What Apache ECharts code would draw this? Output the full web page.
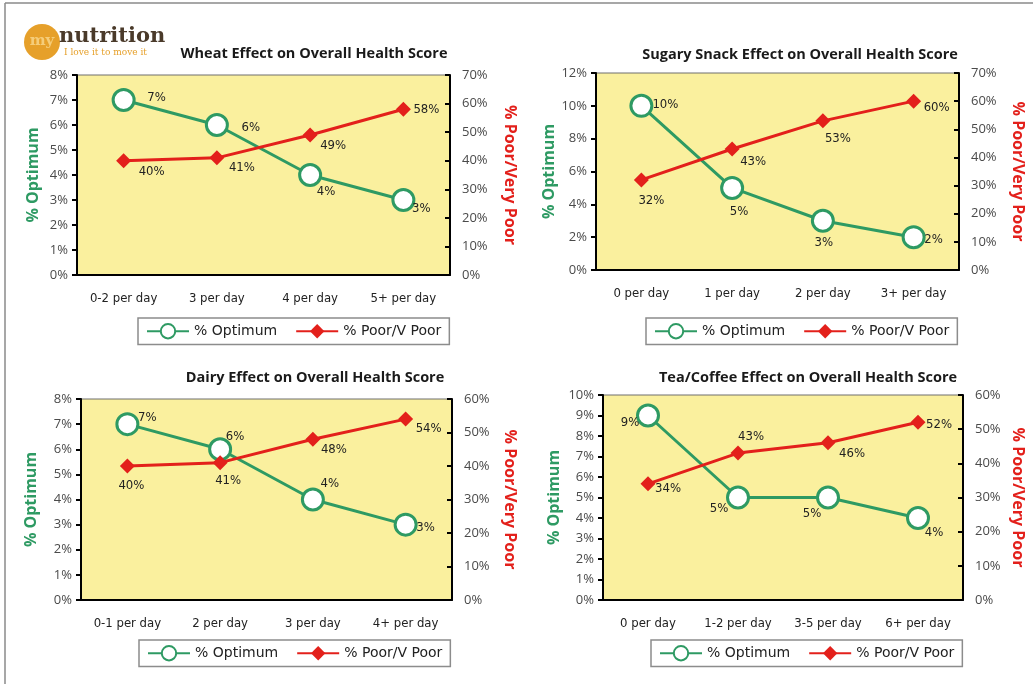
<!DOCTYPE html>
<html>
<head>
<meta charset="utf-8">
<title>Overall Health Score</title>
<script src="https://cdn.jsdelivr.net/npm/echarts@6/dist/echarts.min.js"></script>
<style>
  html, body { margin: 0; padding: 0; background: #fff; }
  #main { width: 1033px; height: 684px; }
</style>
</head>
<body>
<div id="main"></div>
<script>
// ---- data ----
const wheatCategories = ["0-2 per day", "3 per day", "4 per day", "5+ per day"];
const wheatOptimum = [7, 6, 4, 3];
const wheatPoor = [40, 41, 49, 58];

const sugarCategories = ["0 per day", "1 per day", "2 per day", "3+ per day"];
const sugarOptimum = [10, 5, 3, 2];
const sugarPoor = [32, 43, 53, 60];

const dairyCategories = ["0-1 per day", "2 per day", "3 per day", "4+ per day"];
const dairyOptimum = [7, 6, 4, 3];
const dairyPoor = [40, 41, 48, 54];

const teaCategories = ["0 per day", "1-2 per day", "3-5 per day", "6+ per day"];
const teaOptimum = [9, 5, 5, 4];
const teaPoor = [34, 43, 46, 52];

const seriesNames = ["% Optimum", "% Poor/V Poor"];

// ---- layout / style ----
const GREEN = "#2e9a63";
const RED = "#e3201b";
const NARROW = "'Liberation Sans Narrow', 'DejaVu Sans Condensed', Roboto, sans-serif";
const SANS = "'Open Sans', 'Noto Sans', sans-serif";

const panels = [
  {
    title: "Wheat Effect on Overall Health Score", titleX: 314, titleY: 54,
    categories: wheatCategories, optimum: wheatOptimum, poor: wheatPoor,
    grid: { left: 77, top: 75, width: 373, height: 200 },
    leftMax: 8, leftStep: 1, rightMax: 70, rightStep: 10,
    leftGap: 36, rightGap: 52,
    legend: { left: 138, top: 318 },
    // label offsets from the point centre [dx, dy]
    optLabel: [[33, -2], [34, 3], [16, 17], [18, 9]],
    poorLabel: [[28, 11], [25, 10], [23, 11], [23, 0]],
  },
  {
    title: "Sugary Snack Effect on Overall Health Score", titleX: 800, titleY: 55,
    categories: sugarCategories, optimum: sugarOptimum, poor: sugarPoor,
    grid: { left: 596, top: 73, width: 363, height: 197 },
    leftMax: 12, leftStep: 2, rightMax: 70, rightStep: 10,
    leftGap: 31, rightGap: 51,
    legend: { left: 646, top: 318 },
    optLabel: [[24, -1], [7, 24], [1, 22], [20, 2]],
    poorLabel: [[10, 21], [21, 13], [15, 18], [23, 6]],
  },
  {
    title: "Dairy Effect on Overall Health Score", titleX: 315, titleY: 378,
    categories: dairyCategories, optimum: dairyOptimum, poor: dairyPoor,
    grid: { left: 81, top: 399, width: 371, height: 201 },
    leftMax: 8, leftStep: 1, rightMax: 60, rightStep: 10,
    leftGap: 42, rightGap: 50,
    legend: { left: 139, top: 640 },
    optLabel: [[20, -7], [15, -13], [17, -16], [20, 3]],
    poorLabel: [[4, 20], [8, 18], [21, 10], [23, 10]],
  },
  {
    title: "Tea/Coffee Effect on Overall Health Score", titleX: 808, titleY: 378,
    categories: teaCategories, optimum: teaOptimum, poor: teaPoor,
    grid: { left: 603, top: 395, width: 360, height: 205 },
    leftMax: 10, leftStep: 1, rightMax: 60, rightStep: 10,
    leftGap: 41, rightGap: 47,
    legend: { left: 651, top: 640 },
    optLabel: [[-18, 7], [-19, 11], [-16, 16], [16, 15]],
    poorLabel: [[20, 5], [13, -16], [24, 11], [21, 2]],
  },
];

const grids = [], xAxes = [], yAxes = [], series = [], legends = [];
const graphics = [
  // page frame
  { type: "line", shape: { x1: 5, y1: 3, x2: 1033, y2: 3 }, style: { stroke: "#8a8a8a", lineWidth: 1.5 } },
  { type: "line", shape: { x1: 5, y1: 3, x2: 5, y2: 684 }, style: { stroke: "#8a8a8a", lineWidth: 1.5 } },
  // logo
  { type: "circle", shape: { cx: 42, cy: 42, r: 18 }, style: { fill: "#e6a02a" } },
  { type: "text", style: { text: "my", x: 42, y: 41, textAlign: "center", textVerticalAlign: "middle", font: "bold 15px 'DejaVu Serif', serif", fill: "#f5cd7a" } },
  { type: "text", style: { text: "nutrition", x: 59, y: 37, textAlign: "left", textVerticalAlign: "middle", font: "bold 21px 'DejaVu Serif', serif", fill: "#4a3a2a" } },
  { type: "text", style: { text: "I love it to move it", x: 64, y: 53, textAlign: "left", textVerticalAlign: "middle", font: "9px 'DejaVu Serif', serif", fill: "#e6a02a" } },
];

panels.forEach((p, i) => {
  grids.push({
    left: p.grid.left, top: p.grid.top, width: p.grid.width, height: p.grid.height,
    show: true, backgroundColor: "#faf09e", borderColor: "#6f6f6f", borderWidth: 1,
  });

  xAxes.push({
    gridIndex: i,
    type: "category",
    data: p.categories,
    axisLine: { lineStyle: { color: "#000", width: 2 } },
    axisTick: { length: 5, lineStyle: { color: "#000", width: 2 } },
    axisLabel: { interval: 0, color: "#222", fontFamily: NARROW, fontSize: 13, margin: 17 },
  });

  yAxes.push({
    gridIndex: i,
    type: "value",
    position: "left",
    min: 0, max: p.leftMax, interval: p.leftStep,
    name: "% Optimum",
    nameLocation: "middle",
    nameRotate: 90,
    nameGap: p.leftGap,
    nameTextStyle: { color: GREEN, fontWeight: "bold", fontSize: 16, fontFamily: SANS },
    axisLine: { show: true, lineStyle: { color: "#000", width: 2 } },
    axisTick: { show: true, length: 5, lineStyle: { color: "#000", width: 2 } },
    axisLabel: { formatter: "{value}%", color: "#4a4a4a", fontFamily: SANS, fontSize: 13, margin: 9 },
    splitLine: { show: false },
  });

  yAxes.push({
    gridIndex: i,
    type: "value",
    position: "right",
    min: 0, max: p.rightMax, interval: p.rightStep,
    name: "% Poor/Very Poor",
    nameLocation: "middle",
    nameRotate: -90,
    nameGap: p.rightGap,
    nameTextStyle: { color: RED, fontWeight: "bold", fontSize: 16, fontFamily: SANS },
    axisLine: { show: true, lineStyle: { color: "#000", width: 2 } },
    axisTick: { show: true, length: 5, inside: true, lineStyle: { color: "#000", width: 2 } },
    axisLabel: { formatter: "{value}%", color: "#4a4a4a", fontFamily: SANS, fontSize: 13, margin: 12 },
    splitLine: { show: false },
  });

  const labelBase = {
    show: true, position: "inside", formatter: "{c}%",
    color: "#222", fontFamily: NARROW, fontSize: 13,
  };

  series.push({
    name: seriesNames[0],
    type: "line",
    xAxisIndex: i, yAxisIndex: i * 2,
    data: p.optimum.map((v, k) => ({ value: v, label: { offset: p.optLabel[k] } })),
    symbol: "circle", symbolSize: 21,
    itemStyle: { color: "#fff", borderColor: GREEN, borderWidth: 3 },
    lineStyle: { color: GREEN, width: 3 },
    label: labelBase,
    z: 2,
  });

  series.push({
    name: seriesNames[1],
    type: "line",
    xAxisIndex: i, yAxisIndex: i * 2 + 1,
    data: p.poor.map((v, k) => ({ value: v, label: { offset: p.poorLabel[k] } })),
    symbol: "diamond", symbolSize: 15,
    itemStyle: { color: RED },
    lineStyle: { color: RED, width: 3 },
    label: labelBase,
    z: 3,
  });

  legends.push({
    data: seriesNames,
    left: p.legend.left, top: p.legend.top,
    padding: [5, 8, 5, 8],
    itemWidth: 42, itemHeight: 18, itemGap: 18,
    backgroundColor: "#fff", borderColor: "#8c8c8c", borderWidth: 1.5,
    textStyle: { color: "#222", fontFamily: "'DejaVu Sans', sans-serif", fontSize: 14 },
  });

  graphics.push({
    type: "text",
    style: {
      text: p.title, x: p.titleX, y: p.titleY,
      textAlign: "center", textVerticalAlign: "middle",
      font: "bold 14.5px " + SANS, fill: "#1a1a1a",
    },
  });
});

const chart = echarts.init(document.getElementById("main"));
chart.setOption({
  animation: false,
  grid: grids,
  xAxis: xAxes,
  yAxis: yAxes,
  legend: legends,
  series: series,
  graphic: graphics,
});

window.addEventListener("resize", () => chart.resize());
</script>
</body>
</html>
